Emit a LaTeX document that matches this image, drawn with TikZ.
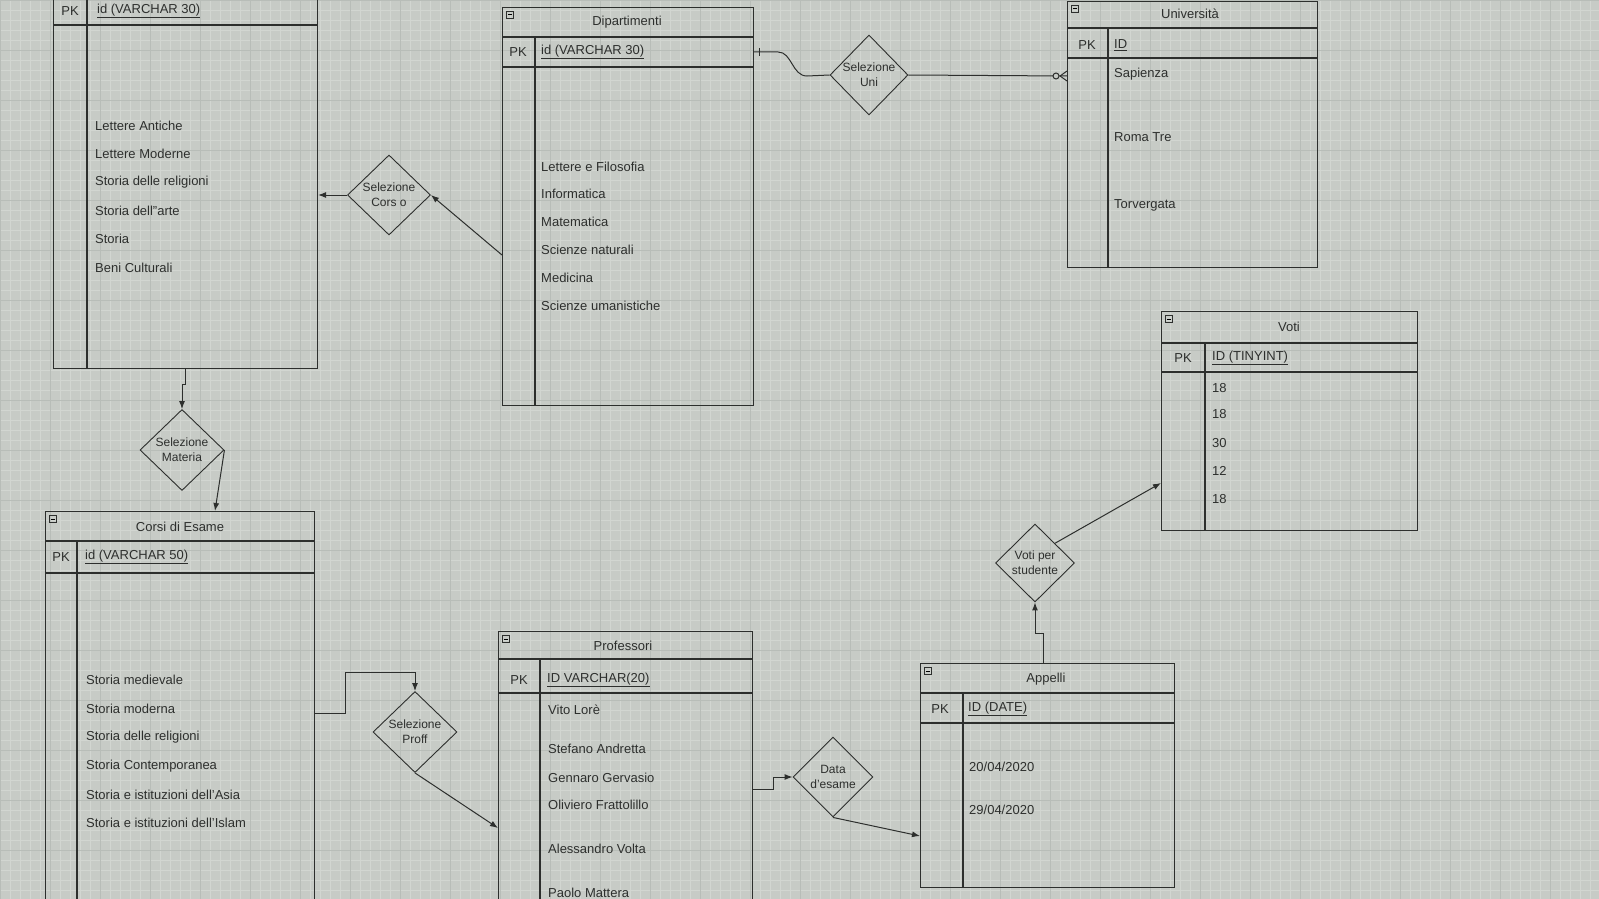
\documentclass[tikz,border=0pt]{standalone}
\usepackage{fontspec}
\setmainfont{Liberation Sans}
\usetikzlibrary{shapes.geometric,arrows.meta}
\definecolor{bg}{RGB}{199,203,198}
\definecolor{gridminor}{RGB}{210,214,209}
\definecolor{gridmajor}{RGB}{184,189,184}
\definecolor{ink}{RGB}{45,47,45}

\begin{document}
\begin{tikzpicture}[x=1pt,y=-1pt,
	tbl/.style={draw=ink, line width=1.1pt, anchor=north west, inner sep=0pt},
	rel/.style={draw=ink, line width=0.9pt, diamond, inner sep=0pt, align=center, text=ink, font=\fontsize{12}{15}\selectfont},
	lbl/.style={anchor=west, inner sep=0pt, text=ink, font=\fontsize{13}{15}\selectfont},
	ttl/.style={inner sep=0pt, text=ink, font=\fontsize{13}{15}\selectfont},
	icon/.style={draw=ink, line width=0.5pt, minimum size=7pt, inner sep=0pt, anchor=north west},
	sep/.style={draw=ink, line width=1.1pt},
	conn/.style={draw=ink, line width=1pt},
	>={Latex[length=8pt,width=6pt]}]

	% background and grid
	\fill[bg] (0,0) rectangle (1599,899);
	\useasboundingbox (0,0) rectangle (1599,899);
	\clip (0,0) rectangle (1599,899);
	\foreach \x in {0,10,...,1600}
		\draw[gridminor, line width=0.4pt] (\x,0) -- (\x,899);
	\foreach \y in {0,10,...,900}
		\draw[gridminor, line width=0.4pt] (0,\y) -- (1599,\y);
	\foreach \x in {0,50,...,1600}
		\draw[gridmajor, line width=0.5pt] (\x,0) -- (\x,899);
	\foreach \y in {0,50,...,900}
		\draw[gridmajor, line width=0.5pt] (0,\y) -- (1599,\y);

	% corsi di laurea (title out of view)
	\node[tbl, minimum width=264pt, minimum height=408pt] (cdl) at (53,-40) {};
	\draw[sep] (53,-4) -- (317,-4) (53,25) -- (317,25) (87,-4) -- (87,368);
	\node[ttl] (cdl-pk) at (70,11) {PK};
	\node[lbl] (cdl-id) at (97,11) {\underline{id (VARCHAR 30)}};
	\foreach \y/\txt [count=\i] in {126/Lettere Antiche, 154/Lettere Moderne, 182/Storia delle religioni, 211/Storia dell"arte, 239/Storia, 268/Beni Culturali}
		\node[lbl] (cdl-\i) at (95,\y) {\txt};

	% dipartimenti
	\node[tbl, minimum width=251pt, minimum height=398pt] (dip) at (502,7) {};
	\draw[sep] (502,37) -- (753,37) (502,67) -- (753,67) (535,37) -- (535,405);
	\node[icon] (dip-ic) at (506,11) {\rule{4pt}{0.5pt}};
	\node[ttl] (dip-t) at (627,22) {Dipartimenti};
	\node[ttl] (dip-pk) at (518,52) {PK};
	\node[lbl] (dip-id) at (541,52) {\underline{id (VARCHAR 30)}};
	\foreach \y/\txt [count=\i] in {167/Lettere e Filosofia, 194/Informatica, 222/Matematica, 250/Scienze naturali, 278/Medicina, 306/Scienze umanistiche}
		\node[lbl] (dip-\i) at (541,\y) {\txt};

	% universita
	\node[tbl, minimum width=250pt, minimum height=266pt] (uni) at (1067,1) {};
	\draw[sep] (1067,28) -- (1317,28) (1067,58) -- (1317,58) (1108,28) -- (1108,267);
	\node[icon] (uni-ic) at (1071,5) {\rule{4pt}{0.5pt}};
	\node[ttl] (uni-t) at (1190,14) {Università};
	\node[ttl] (uni-pk) at (1087,45) {PK};
	\node[lbl] (uni-id) at (1114,45) {\underline{ID}};
	\foreach \y/\txt [count=\i] in {74/Sapienza, 137/Roma Tre, 205/Torvergata}
		\node[lbl] (uni-\i) at (1114,\y) {\txt};

	% voti
	\node[tbl, minimum width=256pt, minimum height=219pt] (voti) at (1161,311) {};
	\draw[sep] (1161,343) -- (1417,343) (1161,372) -- (1417,372) (1205,343) -- (1205,530);
	\node[icon] (voti-ic) at (1165,315) {\rule{4pt}{0.5pt}};
	\node[ttl] (voti-t) at (1289,327) {Voti};
	\node[ttl] (voti-pk) at (1183,358) {PK};
	\node[lbl] (voti-id) at (1212,358) {\underline{ID (TINYINT)}};
	\foreach \y/\txt [count=\i] in {388/18, 414/18, 443/30, 471/12, 499/18}
		\node[lbl] (voti-\i) at (1212,\y) {\txt};

	% corsi di esame
	\node[tbl, minimum width=269pt, minimum height=430pt] (corsi) at (45,511) {};
	\draw[sep] (45,541) -- (314,541) (45,573) -- (314,573) (77,541) -- (77,941);
	\node[icon] (corsi-ic) at (49,515) {\rule{4pt}{0.5pt}};
	\node[ttl] (corsi-t) at (180,527) {Corsi di Esame};
	\node[ttl] (corsi-pk) at (61,557) {PK};
	\node[lbl] (corsi-id) at (85,557) {\underline{id (VARCHAR 50)}};
	\foreach \y/\txt [count=\i] in {680/Storia medievale, 709/Storia moderna, 737/Storia delle religioni, 766/Storia Contemporanea, 795/Storia e istituzioni dell'Asia, 823/Storia e istituzioni dell'Islam}
		\node[lbl] (corsi-\i) at (86,\y) {\txt};

	% professori
	\node[tbl, minimum width=254pt, minimum height=310pt] (prof) at (498,631) {};
	\draw[sep] (498,659) -- (752,659) (498,693) -- (752,693) (540,659) -- (540,941);
	\node[icon] (prof-ic) at (502,635) {\rule{4pt}{0.5pt}};
	\node[ttl] (prof-t) at (623,646) {Professori};
	\node[ttl] (prof-pk) at (519,680) {PK};
	\node[lbl] (prof-id) at (547,680) {\underline{ID VARCHAR(20)}};
	\foreach \y/\txt [count=\i] in {710/Vito Lorè, 749/Stefano Andretta, 778/Gennaro Gervasio, 805/Oliviero Frattolillo, 849/Alessandro Volta, 893/Paolo Mattera}
		\node[lbl] (prof-\i) at (548,\y) {\txt};

	% appelli
	\node[tbl, minimum width=254pt, minimum height=224pt] (app) at (920,663) {};
	\draw[sep] (920,693) -- (1174,693) (920,723) -- (1174,723) (963,693) -- (963,887);
	\node[icon] (app-ic) at (924,667) {\rule{4pt}{0.5pt}};
	\node[ttl] (app-t) at (1046,679) {Appelli};
	\node[ttl] (app-pk) at (940,709) {PK};
	\node[lbl] (app-id) at (968,709) {\underline{ID (DATE)}};
	\node[lbl] (app-1) at (969,767) {20/04/2020};
	\node[lbl] (app-2) at (969,810) {29/04/2020};

	% relazioni
	\node[rel, minimum width=83pt, minimum height=80pt] (selCorso) at (389,195) {Selezione\\Cors o};
	\node[rel, minimum width=78pt, minimum height=80pt] (selUni) at (869,75) {Selezione\\Uni};
	\node[rel, minimum width=84pt, minimum height=81pt] (selMat) at (182,450) {Selezione\\Materia};
	\node[rel, minimum width=84pt, minimum height=81pt] (selProf) at (415,732) {Selezione\\Proff};
	\node[rel, minimum width=80pt, minimum height=80pt] (dataEs) at (833,777) {Data\\d'esame};
	\node[rel, minimum width=79pt, minimum height=78pt] (votiSt) at (1035,563) {Voti per\\studente};

	% collegamenti
	\draw[conn, ->] (selCorso.west) -- (selCorso.west -| cdl.east);
	\draw[conn, ->] ([yshift=-248pt]dip.north west) -- (selCorso.east);
	\draw[conn] ([yshift=-45pt]dip.north east) -- ++(24,0) .. controls (792,52) and (792,76) .. (807,76) -- (selUni.west);
	\draw[conn] ([xshift=5pt,yshift=-41pt]dip.north east) -- ([xshift=5pt,yshift=-49pt]dip.north east);
	\draw[conn] (selUni.east) -- ([yshift=-75pt]uni.north west);
	\draw[conn] ([xshift=-7pt,yshift=-75pt]uni.north west) -- ([yshift=-70pt]uni.north west)
		([xshift=-7pt,yshift=-75pt]uni.north west) -- ([yshift=-80pt]uni.north west);
	\draw[conn, fill=bg] ([xshift=-11pt,yshift=-75pt]uni.north west) circle (3pt);
	\draw[conn, ->] ([xshift=132pt]cdl.south west) -- ++(0,15) -| (selMat.north);
	\draw[conn, ->] (selMat.east) -- ([xshift=170pt]corsi.north west);
	\draw[conn, ->] ([yshift=-202pt]corsi.north east) -| ++(30,-41) -| (selProf.north);
	\draw[conn, ->] (selProf.south) -- ([yshift=-197pt]prof.north west);
	\draw[conn, ->] ([yshift=-158pt]prof.north east) -- ++(20,0) |- (dataEs.west);
	\draw[conn, ->] (dataEs.south) -- ([yshift=-173pt]app.north west);
	\draw[conn, ->] ([xshift=123pt]app.north west) -- ++(0,-30) -| (votiSt.south);
	\draw[conn, ->] (votiSt.north east) -- ([yshift=-172pt]voti.north west);
\end{tikzpicture}
\end{document}
